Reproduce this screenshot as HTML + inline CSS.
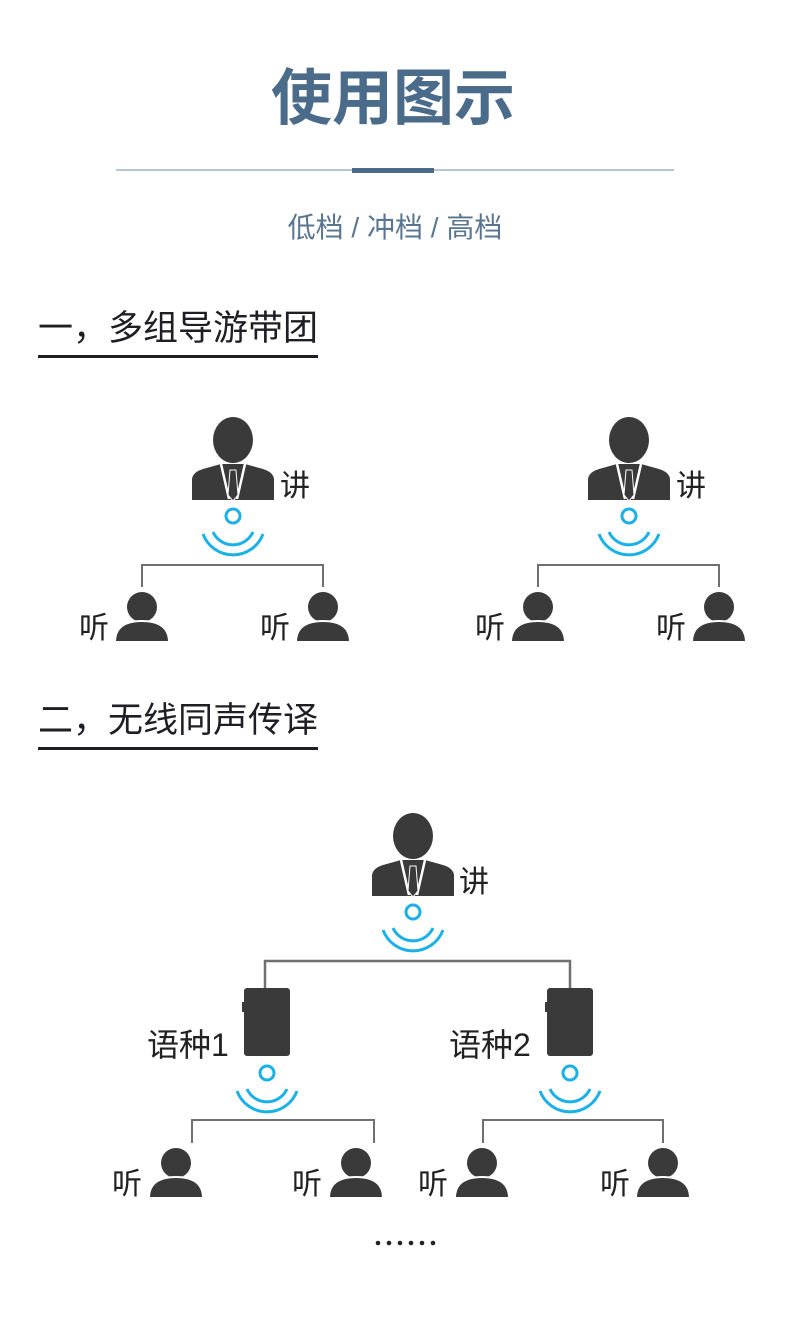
<!DOCTYPE html>
<html><head><meta charset="utf-8"><style>
html,body{margin:0;padding:0;background:#fff;}
svg{display:block;}
text{font-family:"Liberation Sans","Noto Sans CJK SC",sans-serif;}
</style></head><body>
<svg width="790" height="1319" viewBox="0 0 790 1319" xmlns="http://www.w3.org/2000/svg">
<defs>
<g id="spk">
  <ellipse cx="0" cy="23" rx="20" ry="23" fill="#3a3a3a"/>
  <path d="M-41,83 L-41,62 Q-40,55 -30,52 L-12,47 L12,47 L30,52 Q40,55 41,62 L41,83 Z" fill="#3a3a3a"/>
  <path d="M-12,47 L-4,82 M12,47 L4,82" stroke="#fff" stroke-width="2.5"/>
  <path d="M-3,53 L3,53 L5,78 L0,84 L-5,78 Z" fill="#3a3a3a" stroke="#fff" stroke-width="1"/>
</g>
<g id="wave" fill="none" stroke="#1ab0e8" stroke-width="3">
  <circle cx="0" cy="0" r="7"/>
  <path d="M-20,16 A22,22 0 0 0 20,16"/>
  <path d="M-30,18 A32,32 0 0 0 30,18"/>
</g>
<g id="lis">
  <circle cx="0" cy="0" r="15" fill="#3a3a3a"/>
  <path d="M-27,35 Q-27,14 0,14 Q27,14 27,35 Z" fill="#3a3a3a" stroke="#fff" stroke-width="2"/>
</g>
<g id="dev">
  <rect x="0" y="0" width="46" height="68" rx="3" fill="#3a3a3a"/>
  <rect x="-2" y="14" width="4" height="10" fill="#3a3a3a"/>
</g>
</defs>

<text x="393" y="119" text-anchor="middle" font-size="61" font-weight="bold" fill="#4a6b8a">使用图示</text>
<line x1="116" y1="170" x2="674" y2="170" stroke="#9fb2c6" stroke-width="1.5"/>
<rect x="352" y="168" width="82" height="5" fill="#4a6b8a"/>
<text x="395" y="237" text-anchor="middle" font-size="28" fill="#5a7590">低档 / 冲档 / 高档</text>

<text x="38" y="340" font-size="35" fill="#1e1e24">一，多组导游带团</text>
<rect x="38" y="355" width="280" height="3" fill="#1e1e24"/>

<text x="38" y="732" font-size="35" fill="#1e1e24">二，无线同声传译</text>
<rect x="38" y="747" width="280" height="3" fill="#1e1e24"/>

<use href="#spk" x="233" y="417"/>
<text x="280" y="496" font-size="30" fill="#222">讲</text>
<use href="#wave" x="233" y="516"/>
<path d="M142,587 V565 H323 V587" fill="none" stroke="#707070" stroke-width="2"/>
<use href="#lis" x="142" y="607"/>
<use href="#lis" x="323" y="607"/>
<text x="79" y="638" font-size="30" fill="#222">听</text>
<text x="260" y="638" font-size="30" fill="#222">听</text>

<use href="#spk" x="629" y="417"/>
<text x="676" y="496" font-size="30" fill="#222">讲</text>
<use href="#wave" x="629" y="516"/>
<path d="M538,587 V565 H719 V587" fill="none" stroke="#707070" stroke-width="2"/>
<use href="#lis" x="538" y="607"/>
<use href="#lis" x="719" y="607"/>
<text x="475" y="638" font-size="30" fill="#222">听</text>
<text x="656" y="638" font-size="30" fill="#222">听</text>

<use href="#spk" x="413" y="813"/>
<text x="459" y="892" font-size="30" fill="#222">讲</text>
<use href="#wave" x="413" y="912"/>
<path d="M265,988 V961 H570 V988" fill="none" stroke="#707070" stroke-width="2.5"/>
<use href="#dev" x="244" y="988"/>
<use href="#dev" x="547" y="988"/>
<text x="147" y="1056" font-size="32" fill="#222">语种1</text>
<text x="449" y="1056" font-size="32" fill="#222">语种2</text>
<use href="#wave" x="267" y="1073"/>
<use href="#wave" x="570" y="1073"/>
<path d="M192,1143 V1120 H374 V1143" fill="none" stroke="#707070" stroke-width="2"/>
<path d="M483,1143 V1120 H663 V1143" fill="none" stroke="#707070" stroke-width="2"/>
<use href="#lis" x="176" y="1163"/>
<use href="#lis" x="356" y="1163"/>
<use href="#lis" x="482" y="1163"/>
<use href="#lis" x="663" y="1163"/>
<text x="112" y="1194" font-size="30" fill="#222">听</text>
<text x="292" y="1194" font-size="30" fill="#222">听</text>
<text x="418" y="1194" font-size="30" fill="#222">听</text>
<text x="600" y="1194" font-size="30" fill="#222">听</text>

<g fill="#222">
<circle cx="378" cy="1243" r="2.3"/><circle cx="389" cy="1243" r="2.3"/><circle cx="400" cy="1243" r="2.3"/>
<circle cx="411" cy="1243" r="2.3"/><circle cx="422" cy="1243" r="2.3"/><circle cx="433" cy="1243" r="2.3"/>
</g>
</svg>
</body></html>
